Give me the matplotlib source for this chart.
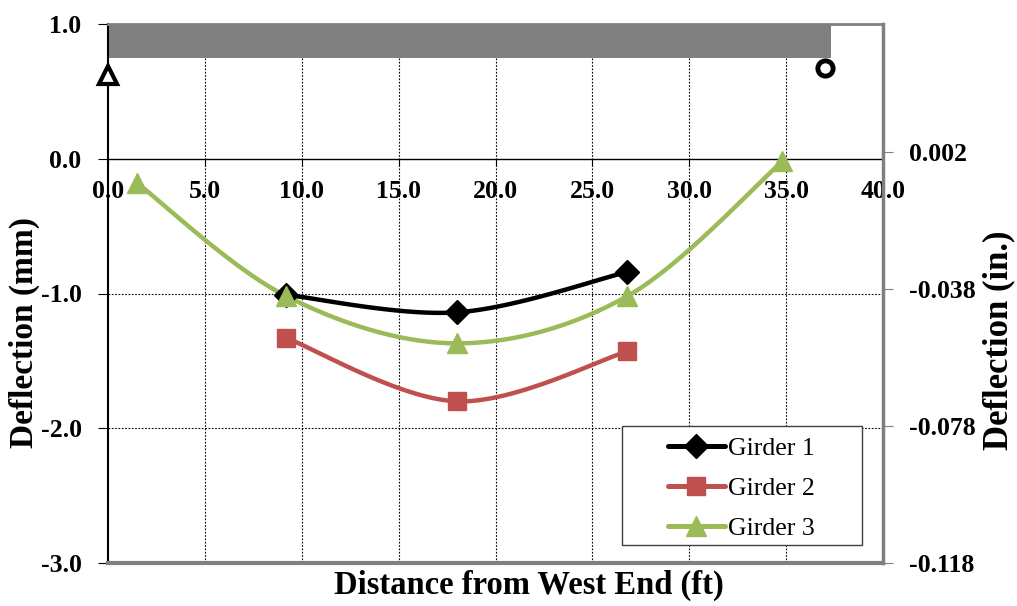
import numpy as np
import matplotlib
matplotlib.use("Agg")
import matplotlib.pyplot as plt
from matplotlib.patches import Rectangle

# ---- data ----
g1_x = [9.2, 18.0, 26.8]
g1_y = [-1.01, -1.14, -0.84]
g2_x = [9.2, 18.0, 26.8]
g2_y = [-1.33, -1.80, -1.43]
g3_x = [1.5, 9.2, 18.0, 26.8, 34.8]
g3_y = [-0.18, -1.02, -1.37, -1.02, -0.02]
series_labels = ["Girder 1", "Girder 2", "Girder 3"]
x_ticks = [0, 5, 10, 15, 20, 25, 30, 35, 40]
y_ticks_mm = [1.0, 0.0, -1.0, -2.0, -3.0]
y_ticks_in = [0.002, -0.038, -0.078, -0.118]
bar_x = [0.0, 37.3]
bar_y = [0.75, 1.0]
pin_xy = (0.0, 0.62)
roller_xy = (37.0, 0.67)

def smooth(xs, ys, n=40):
    P = np.column_stack([xs, ys]).astype(float)
    pts = [P[0]]
    for i in range(len(P) - 1):
        p0 = P[i - 1] if i > 0 else P[i]
        p1, p2 = P[i], P[i + 1]
        p3 = P[i + 2] if i + 2 < len(P) else P[i + 1]
        c1 = p1 + (p2 - p0) / 6.0
        c2 = p2 - (p3 - p1) / 6.0
        t = np.linspace(0, 1, n)[1:, None]
        b = ((1 - t) ** 3) * p1 + 3 * ((1 - t) ** 2) * t * c1 + 3 * (1 - t) * t ** 2 * c2 + t ** 3 * p2
        pts.extend(b)
    pts = np.array(pts)
    return pts[:, 0], pts[:, 1]

serif = "Liberation Serif"
plt.rcParams["font.family"] = serif

W, H = 1017, 606
fig = plt.figure(figsize=(W / 100, H / 100), dpi=100)
ax = fig.add_axes([108 / W, 1 - 563 / H, (883 - 108) / W, (563 - 24) / H])
ax.set_xlim(0, 40)
ax.set_ylim(-3, 1)

# gridlines
for xv in x_ticks[1:-1]:
    ax.axvline(xv, color="black", lw=0.8, ls=(0, (1.5, 1.5)), zorder=1)
for yv in [-1.0, -2.0]:
    ax.axhline(yv, color="black", lw=0.8, ls=(0, (1.5, 1.5)), zorder=1)

# gray deck bar and supports
ax.fill_between(bar_x, bar_y[0], bar_y[1], color="#808080", zorder=2, lw=0)
ax.plot(*pin_xy, marker="^", ms=13, mfc="white", mec="black", mew=3, zorder=6, clip_on=False)
ax.plot(*roller_xy, marker="o", ms=11, mfc="white", mec="black", mew=3.5, zorder=6, clip_on=False)

colors = ["black", "#C0504D", "#9BBB59"]
markers = ["D", "s", "^"]
msizes = [12, 13, 14]
handles = []
for (xs, ys), c, m, ms, lab in zip([(g1_x, g1_y), (g2_x, g2_y), (g3_x, g3_y)], colors, markers, msizes, series_labels):
    sx, sy = smooth(xs, ys)
    ax.plot(sx, sy, color=c, lw=3.2, zorder=4, solid_capstyle="round")
    ax.plot(xs, ys, ls="none", marker=m, ms=ms, color=c, zorder=5)
    h, = ax.plot([], [], color=c, lw=3.6, marker=m, ms=ms, solid_capstyle="round")
    handles.append(h)

# spines
ax.spines["bottom"].set_position(("data", 0))
ax.spines["bottom"].set_color("black")
ax.spines["bottom"].set_linewidth(1.0)
ax.spines["left"].set_color("black")
ax.spines["left"].set_linewidth(1.5)
ax.spines["top"].set_color("#808080")
ax.spines["top"].set_linewidth(2)
ax.spines["right"].set_visible(False)
ax.axhline(-3, color="#808080", lw=3, zorder=3, clip_on=False)

ax.set_xticks(x_ticks)
ax.set_xticklabels([f"{v:.1f}" for v in x_ticks], fontsize=18.5, fontweight="bold")
ax.tick_params(axis="x", direction="out", length=5, color="black", pad=10)
ax.set_yticks(y_ticks_mm)
ax.set_yticklabels([f"{v:.1f}" for v in y_ticks_mm], fontsize=18.5, fontweight="bold")
ax.tick_params(axis="y", direction="out", length=7, color="black", pad=12)

ax2 = ax.twinx()
ax2.set_ylim(-0.118, 1.0 / 25.4)
ax2.set_yticks(y_ticks_in)
ax2.set_yticklabels([f"{v:.3f}" for v in y_ticks_in], fontsize=18.5, fontweight="bold")
ax2.tick_params(axis="y", direction="out", length=7, color="#808080", pad=12)
for s in ["top", "bottom", "left"]:
    ax2.spines[s].set_visible(False)
ax2.spines["right"].set_color("#808080")
ax2.spines["right"].set_linewidth(2.5)

# axis titles
fig.text(529 / W, 1 - 585 / H, "Distance from West End (ft)", fontsize=23.5, fontweight="bold",
         ha="center", va="center")
fig.text(24 / W, 1 - 332 / H, "Deflection (mm)", fontsize=24, fontweight="bold",
         ha="center", va="center", rotation=90)
fig.text(999 / W, 1 - 340 / H, "Deflection (in.)", fontsize=25, fontweight="bold",
         ha="center", va="center", rotation=90)

# legend box + legend
fig.add_artist(Rectangle((622 / W, 1 - 545 / H), (862 - 622) / W, (545 - 426) / H,
                         transform=fig.transFigure, facecolor="white", edgecolor="#404040",
                         lw=1.0, zorder=9))
leg = fig.legend(handles, series_labels, loc="upper left", bbox_to_anchor=(668 / W, 1 - 437 / H),
                 fontsize=18.5, frameon=False, borderpad=0, handlelength=2.2, labelspacing=0.66,
                 handletextpad=0.15, borderaxespad=0)
leg.set_zorder(10)

fig.savefig("out.png", dpi=100)
